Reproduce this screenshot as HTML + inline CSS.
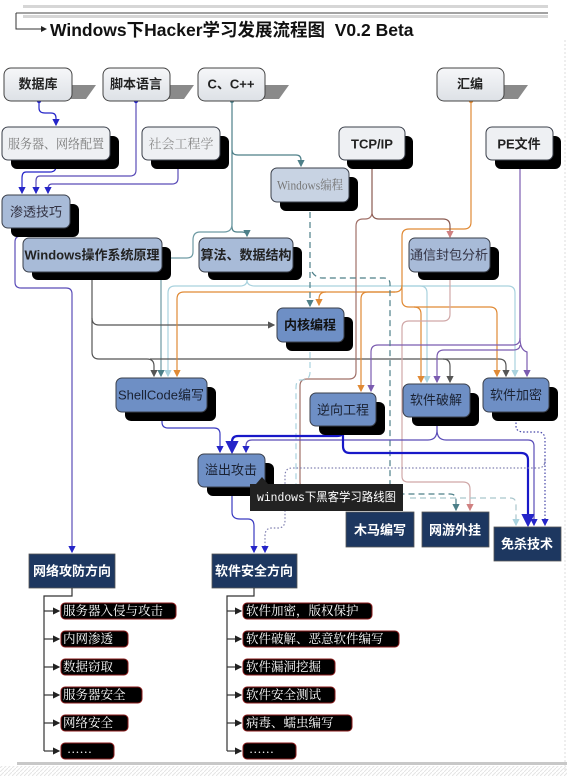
<!DOCTYPE html>
<html><head><meta charset="utf-8"><style>
html,body{margin:0;padding:0;background:#fff;}
svg{display:block;}
.b{font-family:"Liberation Sans","Noto Sans CJK SC",sans-serif;font-weight:bold;font-size:13px;text-anchor:middle;dominant-baseline:central;}
.s{font-family:"Liberation Serif","Noto Serif CJK SC",serif;font-size:13px;text-anchor:middle;dominant-baseline:central;}
.l{font-family:"Liberation Serif","Noto Serif CJK SC",serif;font-size:12.5px;fill:#fff;dominant-baseline:central;}
</style></head><body>
<svg width="567" height="776" viewBox="0 0 567 776" xmlns="http://www.w3.org/2000/svg">
<defs>
<marker id="aB" markerWidth="6" markerHeight="6" refX="5" refY="3" orient="auto"><path d="M0,0L6,3L0,6z" fill="#2525c8"/></marker>
<marker id="aT" markerWidth="6" markerHeight="6" refX="5" refY="3" orient="auto"><path d="M0,0L6,3L0,6z" fill="#4d7f88"/></marker>
<marker id="aL" markerWidth="6" markerHeight="6" refX="5" refY="3" orient="auto"><path d="M0,0L6,3L0,6z" fill="#a9d2de"/></marker>
<marker id="aO" markerWidth="6" markerHeight="6" refX="5" refY="3" orient="auto"><path d="M0,0L6,3L0,6z" fill="#e08a35"/></marker>
<marker id="aG" markerWidth="6" markerHeight="6" refX="5" refY="3" orient="auto"><path d="M0,0L6,3L0,6z" fill="#555"/></marker>
<marker id="aP" markerWidth="6" markerHeight="6" refX="5" refY="3" orient="auto"><path d="M0,0L6,3L0,6z" fill="#7b5cb0"/></marker>
<marker id="aR" markerWidth="6" markerHeight="6" refX="5" refY="3" orient="auto"><path d="M0,0L6,3L0,6z" fill="#d08080"/></marker>
<marker id="aK" markerWidth="6" markerHeight="6" refX="5" refY="3" orient="auto"><path d="M0,0L6,3L0,6z" fill="#222"/></marker>
<pattern id="hatch" width="4" height="4" patternUnits="userSpaceOnUse"><path d="M0,4L4,0" stroke="#e4e4e4" stroke-width="1"/></pattern>
<linearGradient id="g1" x1="0" y1="0" x2="0" y2="1"><stop offset="0" stop-color="#f6f7f9"/><stop offset="1" stop-color="#dde1e6"/></linearGradient>
</defs>

<rect x="23" y="5" width="525" height="3" fill="#d6d6d6"/>
<line x1="16" y1="13" x2="548" y2="13" stroke="#444" stroke-width="1"/>
<rect x="23" y="15" width="525" height="3" fill="#d6d6d6"/>
<path d="M16,13V29H46" fill="none" stroke="#333" stroke-width="1" marker-end="url(#aK)"/>
<text x="50" y="30" font-family="Liberation Sans,Noto Sans CJK SC,sans-serif" font-weight="bold" font-size="17.5" fill="#111" dominant-baseline="central">Windows下Hacker学习发展流程图&#160; V0.2 Beta</text>
<line x1="565" y1="40" x2="565" y2="770" stroke="#ddd" stroke-dasharray="2,2"/>

<g fill="none" stroke-width="1.2">
<path d="M39,101V108Q39,113 45,113H51Q56,113 56,118V125" stroke="#2525c8" marker-end="url(#aB)"/>
<path d="M56,160V166Q56,172 50,172H26Q22,172 22,178V193" stroke="#2525c8" marker-end="url(#aB)"/>
<path d="M136,101V170Q136,176 130,176H40Q36,176 36,181V193" stroke="#5a4cb8" marker-end="url(#aB)"/>
<path d="M178,160V178Q178,184 172,184H52Q48,184 48,189V193" stroke="#5a4cb8" marker-end="url(#aB)"/>
<path d="M36,228V232Q36,236 30,236H21Q15,236 15,242V282Q15,288 21,288H66Q72,288 72,294V552" stroke="#5a4cb8" marker-end="url(#aB)"/>
<path d="M232,101V150Q232,155 238,155H296Q301,155 301,160V166" stroke="#4d7f88" marker-end="url(#aT)"/>
<path d="M232,150V227Q232,232 237,232H242Q247,232 247,236" stroke="#4d7f88" marker-end="url(#aT)"/>
<path d="M232,210V224Q232,232 224,232H200Q193,232 193,240V252Q193,258 187,258H168Q161,258 161,265V376" stroke="#6d9aa3" marker-end="url(#aT)"/>
<path d="M247,272V280Q247,286 255,286H420Q427,286 427,293V382" stroke="#a9d2de" marker-end="url(#aL)"/>
<path d="M400,286H508Q515,286 515,293V376" stroke="#a9d2de" marker-end="url(#aL)"/>
<path d="M247,280Q247,286 240,286H175Q168,286 168,293V376" stroke="#a9d2de" marker-end="url(#aL)"/>
<path d="M92,272V318Q92,325 99,325H274" stroke="#555" marker-end="url(#aG)"/>
<path d="M92,318V352Q92,359 99,359H147Q154,359 154,366V376" stroke="#555" marker-end="url(#aG)"/>
<path d="M150,359H443Q450,359 450,366V382" stroke="#555" marker-end="url(#aG)"/>
<path d="M443,359H499Q506,359 506,366V376" stroke="#555" marker-end="url(#aG)"/>
<path d="M471,101V222Q471,229 464,229H409Q402,229 402,236V285Q402,292 395,292H184Q177,292 177,299V376" stroke="#e08a35" marker-end="url(#aO)"/>
<path d="M326,292Q319,292 319,299V305" stroke="#e08a35" marker-end="url(#aO)"/>
<path d="M402,285V300Q402,307 409,307H414Q421,307 421,314V382" stroke="#e08a35" marker-end="url(#aO)"/>
<path d="M395,292H368Q361,292 361,299V391" stroke="#e08a35" marker-end="url(#aO)"/>
<path d="M414,307H490Q497,307 497,314V376" stroke="#e08a35" marker-end="url(#aO)"/>
<path d="M372,160V212Q372,219 379,219H443Q450,219 450,226V237" stroke="#8a5a50" marker-end="url(#aR)"/>
<path d="M372,212Q372,219 365,219H363Q356,219 356,226V372Q356,379 349,379H307Q300,379 300,386V482Q300,488 306,488H374Q380,488 380,494V510" stroke="#a07068" marker-end="url(#aK)"/>
<path d="M450,272V314Q450,321 443,321H409Q402,321 402,328V476Q402,482 408,482H463Q470,482 470,489V510" stroke="#d0a8a8" marker-end="url(#aR)"/>
<path d="M520,160V338Q520,345 513,345H378Q371,345 371,352V391" stroke="#7b5cb0" marker-end="url(#aP)"/>
<path d="M520,338Q520,350 527,352V376" stroke="#7b5cb0" marker-end="url(#aP)"/>
<path d="M520,345Q520,350 513,350H444Q437,350 437,357V382" stroke="#7b5cb0" marker-end="url(#aP)"/>
<path d="M310,202V306" stroke="#4d7f88" stroke-dasharray="6,4" marker-end="url(#aT)"/>
<path d="M312,272Q316,278 322,278H384Q390,278 390,284V488Q390,494 396,494H450Q456,494 456,500V510" stroke="#4d7f88" stroke-dasharray="6,4" marker-end="url(#aT)"/>
<path d="M410,498H510Q516,498 516,504V525" stroke="#a9c6cc" stroke-dasharray="6,4" marker-end="url(#aL)"/>
<path d="M310,342V372Q310,380 302,380H300Q296,380 296,388V486Q296,492 302,492H382Q389,492 389,498V510" stroke="#a9d2de" stroke-dasharray="6,4" marker-end="url(#aK)"/>
<path d="M162,412V422Q162,428 168,428H214Q220,428 220,434V452" stroke="#3a3ac0" marker-end="url(#aB)"/>
<path d="M437,417V430Q437,440 428,440H252Q246,440 246,446V452" stroke="#5a4cb8" marker-end="url(#aB)"/>
<path d="M437,430Q437,440 446,440H528Q534,440 534,446V525" stroke="#5a4cb8" marker-end="url(#aB)"/>
<path d="M343,426V432Q343,436 337,436H238Q232,436 232,442V452" stroke="#1818c8" stroke-width="2.2" marker-end="url(#aB)"/>
<path d="M343,430V446Q343,453 350,453H521Q528,453 528,460V525" stroke="#1818c8" stroke-width="2.2" marker-end="url(#aB)"/>
<path d="M232,487V512Q232,519 240,519H248Q254,519 254,526V552" stroke="#3a3ac0" marker-end="url(#aB)"/>
<path d="M516,412V426Q516,432 524,432H538Q545,432 545,440V525" stroke="#4545a8" stroke-dasharray="1.5,2" marker-end="url(#aB)"/>
<path d="M545,460Q545,468 538,468H292Q285,468 285,476V520Q285,528 278,528H272Q265,528 265,536V552" stroke="#8080b0" stroke-dasharray="1.5,2" marker-end="url(#aB)"/>
</g>
<g fill="#2525c8"><circle cx="39" cy="101" r="2.2"/><circle cx="136" cy="101" r="2.2"/><circle cx="56" cy="160" r="2.2"/><circle cx="178" cy="160" r="2.2"/><circle cx="36" cy="228" r="2.2"/><circle cx="162" cy="412" r="2.2"/><circle cx="343" cy="426" r="2.6"/><circle cx="437" cy="417" r="2.2"/><circle cx="516" cy="412" r="2.2"/><circle cx="232" cy="487" r="2.2"/></g>
<circle cx="232" cy="101" r="2" fill="#4d7f88"/><circle cx="471" cy="101" r="2.2" fill="#e08a35"/><circle cx="372" cy="160" r="2" fill="#8a5a50"/><circle cx="520" cy="160" r="2" fill="#7b5cb0"/><circle cx="310" cy="202" r="2" fill="#4d7f88"/><circle cx="92" cy="272" r="2" fill="#555"/><circle cx="247" cy="272" r="2" fill="#a9d2de"/><circle cx="450" cy="272" r="2" fill="#d08080"/><circle cx="310" cy="342" r="2" fill="#a9d2de"/>

<g stroke="#444" stroke-width="1">
<path d="M60,85H96L86,99H60z" fill="#8a8a8a" stroke="none"/>
<path d="M158,85H194L184,99H158z" fill="#8a8a8a" stroke="none"/>
<path d="M253,85H289L279,99H253z" fill="#8a8a8a" stroke="none"/>
<path d="M492,85H528L518,99H492z" fill="#8a8a8a" stroke="none"/>
<rect x="4" y="68" width="68" height="33" rx="7" fill="url(#g1)"/>
<rect x="103" y="68" width="67" height="33" rx="7" fill="url(#g1)"/>
<rect x="198" y="68" width="67" height="33" rx="7" fill="url(#g1)"/>
<rect x="437" y="68" width="67" height="33" rx="7" fill="url(#g1)"/>
</g>
<text class="b" x="38" y="84" fill="#222">数据库</text>
<text class="b" x="136" y="84" fill="#222">脚本语言</text>
<text class="b" x="231" y="84" fill="#222">C、C++</text>
<text class="b" x="470" y="84" fill="#222">汇编</text>

<g>
<rect x="11" y="136" width="108" height="33" rx="6" fill="#000"/>
<rect x="151" y="136" width="78" height="33" rx="6" fill="#000"/>
<rect x="347" y="136" width="66" height="33" rx="6" fill="#000"/>
<rect x="495" y="136" width="66" height="33" rx="6" fill="#000"/>
<rect x="280" y="177" width="78" height="34" rx="6" fill="#000"/>
<rect x="11" y="204" width="68" height="33" rx="6" fill="#000"/>
<rect x="32" y="247" width="139" height="33" rx="6" fill="#000"/>
<rect x="208" y="247" width="94" height="33" rx="6" fill="#000"/>
<rect x="418" y="247" width="81" height="33" rx="6" fill="#000"/>
<rect x="286" y="317" width="67" height="34" rx="6" fill="#000"/>
<rect x="125" y="387" width="91" height="34" rx="6" fill="#000"/>
<rect x="319" y="402" width="66" height="33" rx="6" fill="#000"/>
<rect x="412" y="393" width="67" height="33" rx="6" fill="#000"/>
<rect x="492" y="387" width="66" height="34" rx="6" fill="#000"/>
<rect x="207" y="463" width="67" height="33" rx="6" fill="#000"/>
</g>
<g stroke="#3a3f4a" stroke-width="1">
<rect x="2" y="127" width="108" height="33" rx="6" fill="#eef0f3"/>
<rect x="142" y="127" width="78" height="33" rx="6" fill="#eef0f3"/>
<rect x="339" y="127" width="66" height="33" rx="6" fill="#eef0f3"/>
<rect x="486" y="127" width="67" height="33" rx="6" fill="#eef0f3"/>
<rect x="271" y="168" width="78" height="34" rx="6" fill="#c8d3e3"/>
<rect x="2" y="195" width="68" height="33" rx="6" fill="#a8bbd8"/>
<rect x="23" y="238" width="139" height="34" rx="6" fill="#a8bbd8"/>
<rect x="199" y="238" width="94" height="34" rx="6" fill="#a8bbd8"/>
<rect x="409" y="238" width="81" height="34" rx="6" fill="#a8bbd8"/>
<rect x="277" y="308" width="67" height="34" rx="6" fill="#6e8fc5"/>
<rect x="116" y="378" width="91" height="34" rx="6" fill="#6e8fc5"/>
<rect x="310" y="393" width="66" height="33" rx="6" fill="#6e8fc5"/>
<rect x="403" y="384" width="67" height="33" rx="6" fill="#6e8fc5"/>
<rect x="483" y="378" width="66" height="34" rx="6" fill="#6e8fc5"/>
<rect x="198" y="454" width="67" height="33" rx="6" fill="#6e8fc5"/>
</g>
<text class="s" x="56" y="144" fill="#7a7a7a" font-size="12" textLength="96" lengthAdjust="spacingAndGlyphs">服务器、网络配置</text>
<text class="s" x="181" y="144" fill="#8a8a8a">社会工程学</text>
<text class="b" x="372" y="144" fill="#222">TCP/IP</text>
<text class="b" x="519" y="144" fill="#222">PE文件</text>
<text class="s" x="310" y="185" fill="#777" font-size="11.5" textLength="66" lengthAdjust="spacingAndGlyphs">Windows编程</text>
<text x="36" y="212" fill="#334" font-family="Liberation Sans,Noto Sans CJK SC,sans-serif" font-size="13" text-anchor="middle" dominant-baseline="central">渗透技巧</text>
<text class="b" x="92" y="255" fill="#222">Windows操作系统原理</text>
<text class="b" x="246" y="255" fill="#222">算法、数据结构</text>
<text x="449" y="255" fill="#334" font-family="Liberation Sans,Noto Sans CJK SC,sans-serif" font-size="13" text-anchor="middle" dominant-baseline="central">通信封包分析</text>
<text class="b" x="310" y="325" fill="#111">内核编程</text>
<g font-family="Liberation Sans,Noto Sans CJK SC,sans-serif" font-size="13" text-anchor="middle" dominant-baseline="central" fill="#1a2233">
<text x="161" y="395">ShellCode编写</text>
<text x="343" y="410">逆向工程</text>
<text x="436" y="400">软件破解</text>
<text x="516" y="395">软件加密</text>
<text x="231" y="470">溢出攻击</text>
</g>

<g fill="#1d3760" stroke="#555" stroke-width="0.8">
<rect x="346" y="512" width="68" height="35"/>
<rect x="422" y="512" width="67" height="35"/>
<rect x="494" y="527" width="67" height="34"/>
<rect x="29" y="554" width="86" height="34"/>
<rect x="212" y="554" width="85" height="34"/>
</g>
<text class="b" x="380" y="530" fill="#fff">木马编写</text>
<text class="b" x="455" y="530" fill="#fff">网游外挂</text>
<text class="b" x="527" y="544" fill="#fff">免杀技术</text>
<text class="b" x="72" y="571" fill="#fff">网络攻防方向</text>
<text class="b" x="254" y="571" fill="#fff">软件安全方向</text>

<path d="M256,484L262,477L268,484z" fill="#222"/>
<rect x="250" y="484" width="153" height="27" fill="#222"/>
<text x="257" y="498" fill="#fff" font-family="Liberation Mono,Noto Sans CJK SC,monospace" font-size="12" dominant-baseline="central" textLength="139" lengthAdjust="spacingAndGlyphs">windows下黑客学习路线图</text>

<g fill="none" stroke="#333" stroke-width="1.2">
<path d="M72,588V596H44V751"/>
<path d="M254,588V596H227V751"/>
</g>
<g stroke="#333" stroke-width="1.2" fill="none">
<path d="M44,611H59" marker-end="url(#aK)"/><path d="M44,639H59" marker-end="url(#aK)"/><path d="M44,667H59" marker-end="url(#aK)"/><path d="M44,695H59" marker-end="url(#aK)"/><path d="M44,723H59" marker-end="url(#aK)"/><path d="M44,751H59" marker-end="url(#aK)"/>
<path d="M227,611H241" marker-end="url(#aK)"/><path d="M227,639H241" marker-end="url(#aK)"/><path d="M227,667H241" marker-end="url(#aK)"/><path d="M227,695H241" marker-end="url(#aK)"/><path d="M227,723H241" marker-end="url(#aK)"/><path d="M227,751H241" marker-end="url(#aK)"/>
</g>
<g fill="#000" stroke="#8a1a1a" stroke-width="1">
<rect x="61" y="603" width="115" height="16" rx="4"/>
<rect x="61" y="631" width="67" height="16" rx="4"/>
<rect x="61" y="659" width="67" height="16" rx="4"/>
<rect x="61" y="687" width="81" height="16" rx="4"/>
<rect x="61" y="715" width="67" height="16" rx="4"/>
<rect x="61" y="743" width="53" height="16" rx="4"/>
<rect x="243" y="603" width="129" height="16" rx="4"/>
<rect x="243" y="631" width="156" height="16" rx="4"/>
<rect x="243" y="659" width="92" height="16" rx="4"/>
<rect x="243" y="687" width="92" height="16" rx="4"/>
<rect x="243" y="715" width="109" height="16" rx="4"/>
<rect x="243" y="743" width="53" height="16" rx="4"/>
</g>
<text class="l" x="63" y="611">服务器入侵与攻击</text>
<text class="l" x="63" y="639">内网渗透</text>
<text class="l" x="63" y="667">数据窃取</text>
<text class="l" x="63" y="695">服务器安全</text>
<text class="l" x="63" y="723">网络安全</text>
<text class="l" x="67" y="749" font-size="10">……</text>
<text class="l" x="246" y="611">软件加密，版权保护</text>
<text class="l" x="246" y="639">软件破解、恶意软件编写</text>
<text class="l" x="246" y="667">软件漏洞挖掘</text>
<text class="l" x="246" y="695">软件安全测试</text>
<text class="l" x="246" y="723">病毒、蠕虫编写</text>
<text class="l" x="249" y="749" font-size="10">……</text>

<rect x="17" y="762" width="550" height="3" fill="#c8c8c8"/>
<rect x="0" y="766" width="567" height="10" fill="url(#hatch)"/>
</svg>
</body></html>
